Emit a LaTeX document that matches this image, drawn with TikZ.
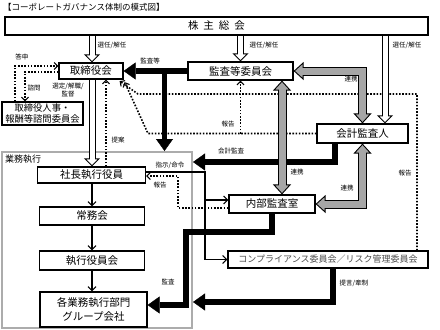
\documentclass[tikz,border=0pt]{standalone}
\usepackage{fontspec}
\setmainfont{Noto Sans CJK JP}
\usetikzlibrary{arrows.meta,calc,backgrounds}

\colorlet{linkgray}{gray!70}
\newcommand{\hollowarr}[1]{%
 \draw[line width=0.9pt, -{Triangle[length=8pt,width=16pt,fill=white]}] #1;
 \draw[line width=7pt, shorten >=7.2pt] #1;
 \draw[line width=5pt, white, shorten >=6.6pt] #1;}
\newcommand{\grayarr}[1]{%
 \draw[line width=0.9pt, {Triangle[length=10pt,width=18pt,fill=linkgray]}-{Triangle[length=10pt,width=18pt,fill=linkgray]}] #1;
 \draw[line width=9pt, line join=miter, shorten >=9.3pt, shorten <=9.3pt] #1;
 \draw[line width=7pt, linkgray, line join=miter, shorten >=8.6pt, shorten <=8.6pt] #1;}

\tikzset{
 box/.style={draw, line width=1.2pt, fill=white, inner sep=0pt, font=\fontsize{10.5}{12}\selectfont},
 lbl/.style={inner sep=0pt, font=\fontsize{6.5}{7.5}\selectfont},
 blk/.style={line width=5.5pt, line join=miter, -{Triangle[length=12pt,width=17pt,line width=0.4pt]}},
 dot/.style={line width=1.6pt, dash pattern=on 1.6pt off 1.6pt, -{Straight Barb[length=3.5pt,width=7pt,line width=1.1pt]}},
 thinarr/.style={line width=1.1pt, -{Straight Barb[length=4pt,width=8pt]}},
 frame/.style={draw=gray!65, line width=2pt, inner sep=0pt}
}

\begin{document}
\begin{tikzpicture}[x=1pt,y=-1pt]
\useasboundingbox (0,0) rectangle (440,330);

% title
\node[anchor=west, inner sep=0pt, font=\fontsize{8.5}{10}\selectfont] (title) at (3,7) {【コーポレートガバナンス体制の模式図】};

% boxes
\node[box, minimum width=423, minimum height=18] (soukai) at (216.5,26) {株\hspace{5pt}主\hspace{5pt}総\hspace{5pt}会};
\node[box, minimum width=64, minimum height=16] (tori) at (91,71) {取締役会};
\node[box, minimum width=105, minimum height=18] (kansa) at (240.5,71) {監査等委員会};
\node[box, minimum width=91, minimum height=19] (kaikei) at (362.5,133.5) {会計監査人};
\node[box, minimum width=81, minimum height=23, align=center, font=\fontsize{9.3}{10.5}\selectfont] (shimon) at (42.5,113.5) {取締役人事・\\報酬等諮問委員会};
\node[box, minimum width=108, minimum height=16] (shacho) at (91.5,175) {社長執行役員};
\node[box, minimum width=105, minimum height=18] (jomu) at (92,216) {常務会};
\node[box, minimum width=105, minimum height=19] (shikko) at (92,260.5) {執行役員会};
\node[box, minimum width=107, minimum height=35, align=center, font=\fontsize{10.5}{14}\selectfont] (bumon) at (93.5,309.5) {各業務執行部門\\グループ会社};
\node[box, minimum width=86, minimum height=18] (naibu) at (272,204) {内部監査室};
\node[box, minimum width=200, minimum height=17, text=black!70, font=\fontsize{9}{10}\selectfont] (comp) at (328,259.5) {コンプライアンス委員会／リスク管理委員会};

\node[anchor=west, inner sep=0pt, font=\fontsize{9}{10}\selectfont] (gyolbl) at (5,159) {業務執行};

% helper coordinates
\coordinate (ax) at (92,0);
\coordinate (h3) at (385,0);
\coordinate (gx) at (282,0);
\coordinate (kb) at (164.5,71);
\coordinate (kx) at (335,162);
\coordinate (mx) at (186,232);
\coordinate (my) at (0,305);
\coordinate (cx) at (333,302);
\coordinate (tx) at (15,66);
\coordinate (sx) at (25,72);
\coordinate (px) at (106,0);
\coordinate (rx) at (417,94);
\coordinate (ux) at (138,94);
\coordinate (vx) at (148,133.5);
\coordinate (q1) at (178,208);
\coordinate (i1) at (205,172);
\coordinate (iy) at (0,200);

\begin{scope}[on background layer]
\node[frame, minimum width=190, minimum height=176] (gyomu) at (97,240) {};

% dotted lines
\draw[dot] (shimon.north -| tx) |- (tori.west |- tx);
\draw[dot] (tori.west |- sx) -| (shimon.north -| sx);
\draw[dot] (shacho.north -| px) -- (tori.south -| px);
\draw[dot] (comp.north -| rx) |- (ux) -- ($(tori.south east)+(-4,1.5)$);
\draw[dot] (kaikei.west) -- (vx) -- ($(tori.south east)+(1,2.5)$);
\draw[dot] (kansa.south |- kaikei.west) -- (kansa.south);
\draw[dot] (naibu.west |- q1) -- (q1) |- ($(shacho.east)+(0,1)$);

% thin lines
\draw[thinarr] (shacho.south -| ax) -- (jomu.north -| ax);
\draw[thinarr] (jomu.south -| ax) -- (shikko.north -| ax);
\draw[thinarr] (shikko.south -| ax) -- (bumon.north -| ax);
\draw[thinarr] (shacho.east |- i1) -- (i1) |- (comp.west);
\draw[thinarr] (i1 |- iy) -- (naibu.west |- iy);

% thick black
\draw[blk] (kansa.west) -- (tori.east);
\draw[blk] (kb) -- (kb |- gyomu.north);
\draw[blk] (kaikei.south -| kx) |- (gyomu.east |- kx);
\draw[blk] (naibu.south) |- (mx) |- (bumon.east |- my);
\draw[blk] (comp.south -| cx) |- (gyomu.east |- cx);

% gray link arrows
\grayarr{(kaikei.north) |- (kansa.east)}
\grayarr{(kansa.south -| gx) -- (naibu.north -| gx)}
\grayarr{(kaikei.south) |- (naibu.east)}

% hollow arrows
\hollowarr{(soukai.south -| ax) -- (tori.north -| ax)}
\hollowarr{(soukai.south -| kansa) -- (kansa.north)}
\hollowarr{(soukai.south -| h3) -- (kaikei.north -| h3)}
\hollowarr{(tori.south -| ax) -- (shacho.north -| ax)}
\end{scope}

% labels
\node[lbl] (l1) at (112,45) {選任/解任};
\node[lbl] (l2) at (264,45) {選任/解任};
\node[lbl] (l3) at (407,45) {選任/解任};
\node[lbl] (l4) at (150,61) {監査等};
\node[lbl] (l5) at (351,79) {連携};
\node[lbl] (l6) at (297,172) {連携};
\node[lbl] (l7) at (347,188) {連携};
\node[lbl] (l8) at (22,57) {答申};
\node[lbl] (l9) at (34,88) {諮問};
\node[lbl, align=center] (l10) at (68,90) {選定/解職/\\監督};
\node[lbl] (l11) at (228,124) {報告};
\node[lbl] (l12) at (405,173) {報告};
\node[lbl] (l13) at (160,185) {報告};
\node[lbl] (l14) at (118,140) {提案};
\node[lbl] (l15) at (231,151) {会計監査};
\node[lbl] (l16) at (170,165) {指示/命令};
\node[lbl] (l17) at (168,282) {監査};
\node[lbl] (l18) at (354,283) {提言/牽制};
\end{tikzpicture}
\end{document}
